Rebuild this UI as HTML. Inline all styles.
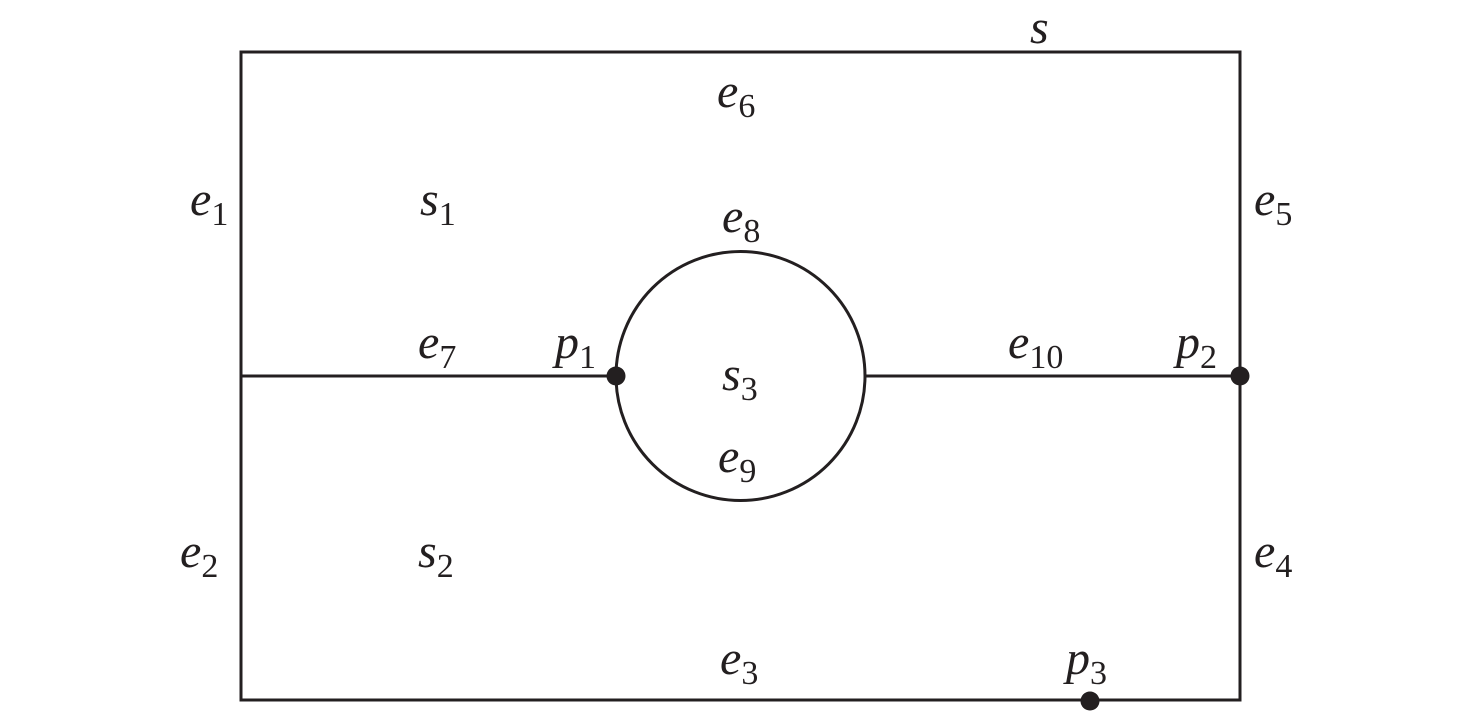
<!DOCTYPE html>
<html><head><style>html,body{margin:0;padding:0;background:#fff}svg{display:block}
text{font-family:"Liberation Serif","Times New Roman",serif;font-style:italic;font-size:48px;fill:#231f20}
tspan.s{font-style:normal;font-size:34px}</style></head><body>
<svg width="1476" height="711" viewBox="0 0 1476 711">
<g stroke="#231f20" stroke-width="3" fill="none">
<rect x="241" y="52" width="999" height="648"/>
<circle cx="740.5" cy="376" r="124.5"/>
<line x1="241" y1="376" x2="616" y2="376"/>
<line x1="865" y1="376" x2="1240" y2="376"/>
</g>
<g fill="#231f20">
<circle cx="616" cy="376" r="9.5"/>
<circle cx="1240" cy="376" r="9.5"/>
<circle cx="1090" cy="701" r="9.5"/>
</g>
<g font-family="Liberation Serif, serif">
<text x="1030" y="43">s</text>
<text x="717" y="107">e<tspan class="s" dy="10">6</tspan></text>
<text x="190" y="215">e<tspan class="s" dy="10">1</tspan></text>
<text x="420" y="215">s<tspan class="s" dy="10">1</tspan></text>
<text x="722" y="232">e<tspan class="s" dy="10">8</tspan></text>
<text x="1254" y="215">e<tspan class="s" dy="10">5</tspan></text>
<text x="418" y="358">e<tspan class="s" dy="10">7</tspan></text>
<text x="555" y="358">p<tspan class="s" dy="10">1</tspan></text>
<text x="1008" y="358">e<tspan class="s" dy="10">10</tspan></text>
<text x="1176" y="358">p<tspan class="s" dy="10">2</tspan></text>
<text x="722" y="390">s<tspan class="s" dy="10">3</tspan></text>
<text x="718" y="472">e<tspan class="s" dy="10">9</tspan></text>
<text x="180" y="567">e<tspan class="s" dy="10">2</tspan></text>
<text x="418" y="567">s<tspan class="s" dy="10">2</tspan></text>
<text x="1254" y="567">e<tspan class="s" dy="10">4</tspan></text>
<text x="720" y="674">e<tspan class="s" dy="10">3</tspan></text>
<text x="1066" y="674">p<tspan class="s" dy="10">3</tspan></text>
</g>
</svg>
</body></html>
